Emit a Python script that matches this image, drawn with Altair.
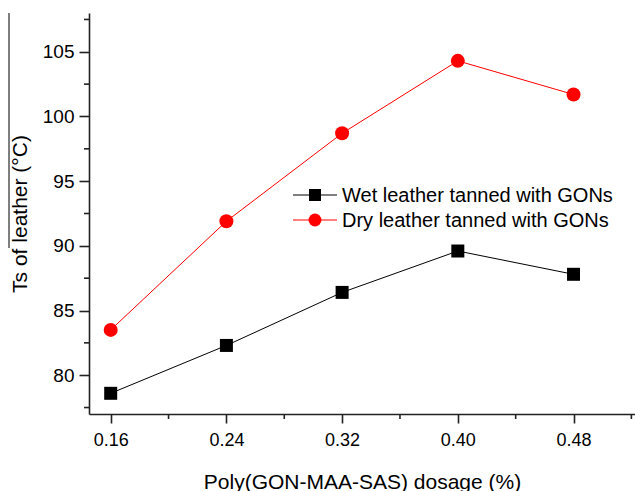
import altair as alt
import pandas as pd

dosage = [0.16, 0.24, 0.32, 0.40, 0.48]
wet = [78.6, 82.3, 86.4, 89.6, 87.8]
dry = [83.5, 91.9, 98.7, 104.3, 101.7]
series_names = ["Wet leather tanned with GONs", "Dry leather tanned with GONs"]
series_colors = ["#000000", "#ff0000"]
series_shapes = ["square", "circle"]
series_sizes = [169, 196]
x_major = [0.16, 0.24, 0.32, 0.40, 0.48]
x_minor = [0.20, 0.28, 0.36, 0.44, 0.52]
y_major = [80, 85, 90, 95, 100, 105]
y_minor = [77.5, 82.5, 87.5, 92.5, 97.5, 102.5, 107.5]

rows = []
for d, v in zip(dosage, wet):
    rows.append({"dosage": d, "ts": v, "series": series_names[0]})
for d, v in zip(dosage, dry):
    rows.append({"dosage": d, "ts": v, "series": series_names[1]})
df = pd.DataFrame(rows)
legend_df = pd.DataFrame({"series": series_names})

FONT = "Liberation Sans"
AX = "#222222"

x_scale = alt.Scale(domain=[0.145, 0.5225], nice=False, zero=False)
y_scale = alt.Scale(domain=[77, 108], nice=False, zero=False)

x = alt.X(
    "dosage:Q",
    scale=x_scale,
    axis=alt.Axis(
        title="Poly(GON-MAA-SAS) dosage (%)",
        values=x_major,
        format=".2f",
        tickSize=9,
        labelPadding=8,
        titlePadding=22,
        grid=False,
        labelFont=FONT,
        labelFontSize=18,
        labelColor="#000000",
        titleFont=FONT,
        titleFontSize=21,
        titleFontWeight="normal",
        titleColor="#000000",
        domainColor=AX,
        domainWidth=1.6,
        tickColor=AX,
        tickWidth=1.6,
        labelFlush=False,
    ),
)
y = alt.Y(
    "ts:Q",
    scale=y_scale,
    axis=alt.Axis(
        title="Ts of leather (°C)",
        values=y_major,
        format="d",
        tickSize=10,
        labelPadding=5,
        titlePadding=12,
        grid=False,
        labelFont=FONT,
        labelFontSize=19,
        labelColor="#000000",
        titleFont=FONT,
        titleFontSize=21,
        titleFontWeight="normal",
        titleColor="#000000",
        domainColor=AX,
        domainWidth=1.6,
        tickColor=AX,
        tickWidth=1.6,
        labelFlush=False,
    ),
)

color = alt.Color("series:N", scale=alt.Scale(domain=series_names, range=series_colors), legend=None)

base = alt.Chart(df).encode(x=x, y=y, color=color)
lines = base.mark_line(strokeWidth=1)
pts_layers = []
for name, shp, sz in zip(series_names, series_shapes, series_sizes):
    pts_layers.append(
        base.transform_filter(alt.datum.series == name).mark_point(
            filled=True, opacity=1, strokeWidth=0, shape=shp, size=sz
        )
    )

# legend (line through marker, then label)
legend_layers = []
for i, (name, col, shp, sz) in enumerate(zip(series_names, series_colors, series_shapes, series_sizes)):
    ly = 182 + 25 * i
    src = alt.Chart(legend_df).transform_filter(alt.datum.series == name)
    legend_layers.append(
        src.mark_rule(color=col, strokeWidth=1).encode(x=alt.value(204), x2=alt.value(248), y=alt.value(ly))
    )
    legend_layers.append(
        src.mark_point(filled=True, opacity=1, strokeWidth=0, color=col, shape=shp, size=sz * 0.85).encode(
            x=alt.value(226), y=alt.value(ly)
        )
    )
    legend_layers.append(
        src.mark_text(align="left", baseline="middle", font=FONT, fontSize=20, color="#000000").encode(
            x=alt.value(253), y=alt.value(ly + 1), text="series:N"
        )
    )

ymin_df = pd.DataFrame({"v": y_minor})
xmin_df = pd.DataFrame({"v": x_minor})
y_minor_ticks = alt.Chart(ymin_df).mark_rule(color=AX, strokeWidth=1.6).encode(
    y=alt.Y("v:Q", scale=y_scale), x=alt.value(-5), x2=alt.value(0)
)
x_minor_ticks = alt.Chart(xmin_df).mark_rule(color=AX, strokeWidth=1.6).encode(
    x=alt.X("v:Q", scale=x_scale), y=alt.value(401), y2=alt.value(406)
)

stray = alt.Chart(legend_df).mark_rule(color="#555555", strokeWidth=1).encode(
    x=alt.value(-80), y=alt.value(0), y2=alt.value(235)
)

chart = (
    alt.layer(stray, y_minor_ticks, x_minor_ticks, lines, *pts_layers, *legend_layers)
    .properties(
        width=546,
        height=401,
        autosize=alt.AutoSizeParams(type="none"),
        padding={"left": 89, "top": 13, "right": 0, "bottom": 77},
        background="white",
    )
    .configure_view(stroke=None)
)

chart.save("out.html", embed_options={"renderer": "svg", "actions": False})
